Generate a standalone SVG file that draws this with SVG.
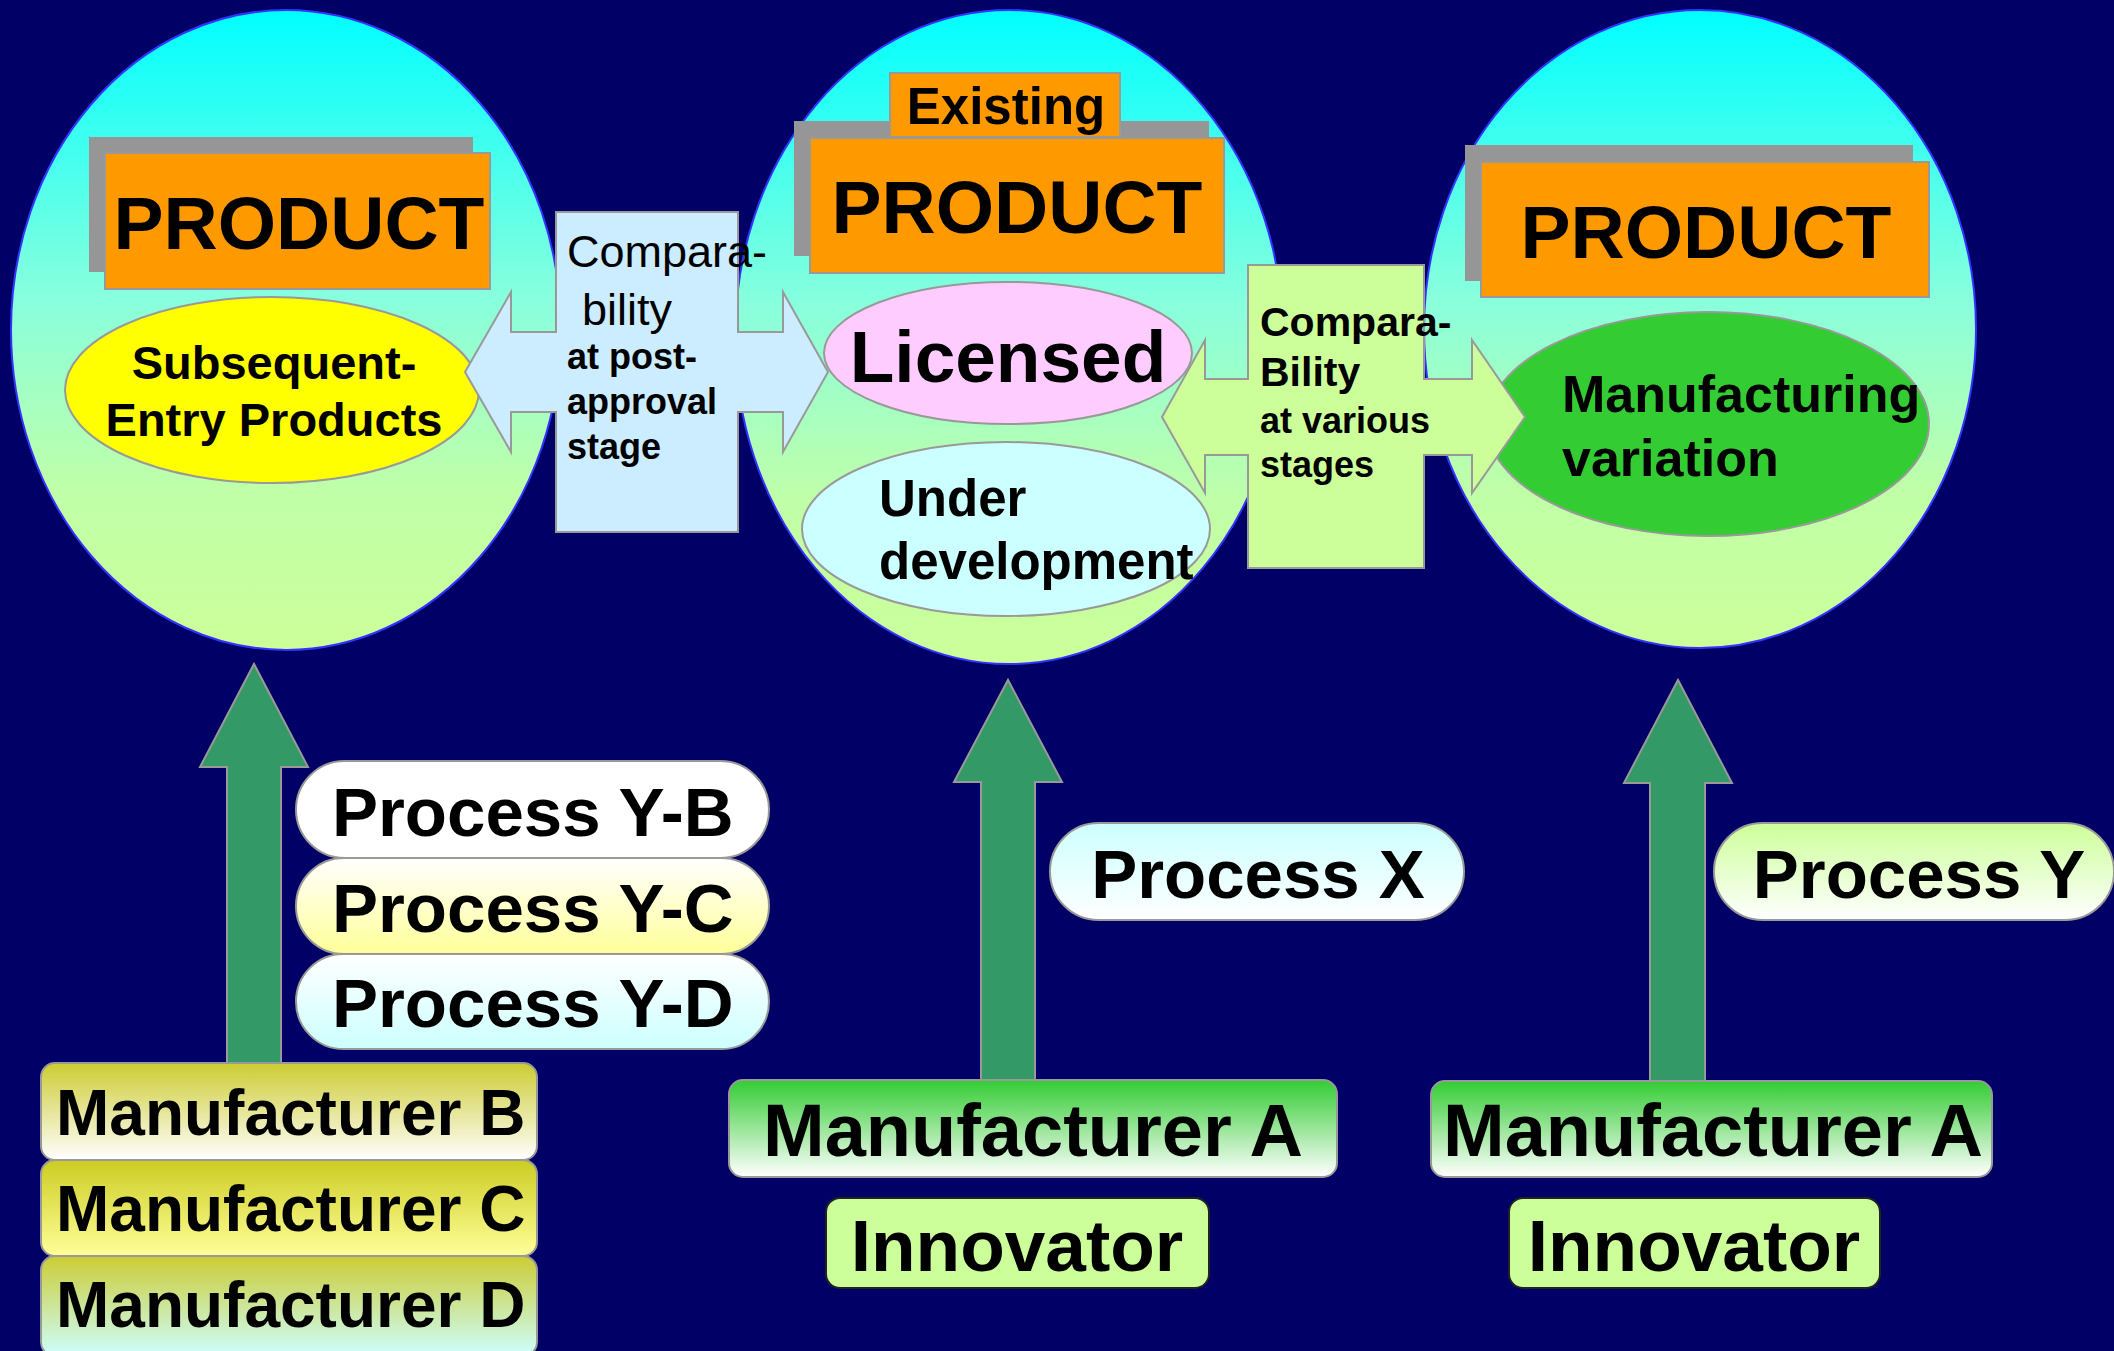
<svg xmlns="http://www.w3.org/2000/svg" width="2114" height="1351" viewBox="0 0 2114 1351">
<defs>
<linearGradient id="gBig" x1="0" y1="0" x2="0" y2="1">
<stop offset="0" stop-color="#00FFFF"/>
<stop offset="0.45" stop-color="#88FFDD"/>
<stop offset="0.75" stop-color="#C0FFA8"/>
<stop offset="1" stop-color="#CCFF99"/>
</linearGradient>
<linearGradient id="gWY" x1="0" y1="0" x2="0" y2="1"><stop offset="0" stop-color="#FFFFFF"/><stop offset="1" stop-color="#FFFF99"/></linearGradient>
<linearGradient id="gWC" x1="0" y1="0" x2="0" y2="1"><stop offset="0" stop-color="#FFFFFF"/><stop offset="1" stop-color="#CCFFFF"/></linearGradient>
<linearGradient id="gCW" x1="0" y1="0" x2="0" y2="1"><stop offset="0" stop-color="#CCFFFF"/><stop offset="1" stop-color="#FFFFFF"/></linearGradient>
<linearGradient id="gLW" x1="0" y1="0" x2="0" y2="1"><stop offset="0" stop-color="#CCFF99"/><stop offset="1" stop-color="#FFFFFF"/></linearGradient>
<linearGradient id="gMB" x1="0" y1="0" x2="0" y2="1"><stop offset="0" stop-color="#CCCC33"/><stop offset="1" stop-color="#FFFFFF"/></linearGradient>
<linearGradient id="gMC" x1="0" y1="0" x2="0" y2="1"><stop offset="0" stop-color="#CCCC22"/><stop offset="1" stop-color="#FFFF99"/></linearGradient>
<linearGradient id="gMD" x1="0" y1="0" x2="0" y2="1"><stop offset="0" stop-color="#CCCC33"/><stop offset="1" stop-color="#CCFFFF"/></linearGradient>
<linearGradient id="gMA" x1="0" y1="0" x2="0" y2="1"><stop offset="0" stop-color="#33CC33"/><stop offset="1" stop-color="#FFFFFF"/></linearGradient>
</defs>
<style>
text{font-family:"Liberation Sans",Arial,sans-serif;font-weight:bold;fill:#000}
text.reg{font-weight:normal}
.big{fill:url(#gBig);stroke:#3333FF;stroke-width:2}
.shadow{fill:#969696}
.orange{fill:#FF9900;stroke:#999999;stroke-width:2}
.sub{stroke:#999999;stroke-width:2}
.up{fill:#339966;stroke:#999999;stroke-width:2}
.pill{stroke:#999999;stroke-width:2}
.mbox{stroke:#999999;stroke-width:2}
.inno{fill:#CCFF99;stroke:#222222;stroke-width:2}
.prod{font-size:75px;text-anchor:middle}
.proc{font-size:69px}
.manu{font-size:64px}
.manuA{font-size:74px;text-anchor:middle}
.innoT{font-size:73px;text-anchor:middle}
</style>
<rect x="0" y="0" width="2114" height="1351" fill="#000066"/>

<g id="product-left">
<ellipse class="big" cx="286" cy="330" rx="275" ry="320"/>
<rect class="shadow" x="89" y="137" width="384" height="135"/>
<rect class="orange" x="105" y="153" width="385" height="136"/>
<text class="prod" x="299" y="249">PRODUCT</text>
<ellipse class="sub" cx="272" cy="390" rx="207" ry="93" fill="#FFFF00"/>
<text x="274" y="379" font-size="47" text-anchor="middle">Subsequent-</text>
<text x="274" y="436" font-size="47" text-anchor="middle">Entry Products</text>
</g>

<g id="product-existing">
<ellipse class="big" cx="1009" cy="337" rx="274" ry="327"/>
<rect class="shadow" x="794" y="121" width="415" height="135"/>
<rect class="orange" x="890" y="73" width="230" height="64"/>
<text x="1006" y="124" font-size="51" text-anchor="middle">Existing</text>
<rect class="orange" x="810" y="138" width="414" height="135"/>
<text class="prod" x="1017" y="233">PRODUCT</text>
<ellipse class="sub" cx="1008" cy="353" rx="184" ry="71" fill="#FFCCFF"/>
<text x="1008" y="382" font-size="73" text-anchor="middle">Licensed</text>
<ellipse class="sub" cx="1006" cy="529" rx="204" ry="87" fill="#CCFFFF"/>
<text x="879" y="516" font-size="51">Under</text>
<text x="879" y="579" font-size="51">development</text>
</g>

<g id="product-right">
<ellipse class="big" cx="1700" cy="329" rx="276" ry="319"/>
<rect class="shadow" x="1465" y="145" width="448" height="136"/>
<rect class="orange" x="1481" y="162" width="448" height="135"/>
<text class="prod" x="1706" y="258">PRODUCT</text>
<ellipse class="sub" cx="1708" cy="424" rx="221" ry="112" fill="#33CC33"/>
<text x="1562" y="412" font-size="52">Manufacturing</text>
<text x="1562" y="476" font-size="52">variation</text>
</g>

<g id="connectors">
<g id="comparability-post-approval">
<path d="M556,212 L738,212 L738,332 L783,332 L783,292 L828,372 L783,452 L783,412 L738,412 L738,532 L556,532 L556,412 L511,412 L511,452 L465,372 L511,292 L511,332 L556,332 Z" fill="#CCECFF" stroke="#999999" stroke-width="2"/>
<text class="reg" x="567" y="267" font-size="45">Compara-</text>
<text class="reg" x="582" y="325" font-size="45">bility</text>
<text x="567" y="369" font-size="36">at post-</text>
<text x="567" y="414" font-size="36">approval</text>
<text x="567" y="459" font-size="36">stage</text>
</g>
<g id="comparability-various">
<path d="M1248,265 L1424,265 L1424,379 L1472,379 L1472,340 L1525,417 L1472,493 L1472,455 L1424,455 L1424,568 L1248,568 L1248,455 L1205,455 L1205,493 L1162,417 L1205,340 L1205,379 L1248,379 Z" fill="#CCFF99" stroke="#999999" stroke-width="2"/>
<text x="1260" y="336" font-size="41">Compara-</text>
<text x="1260" y="386" font-size="41">Bility</text>
<text x="1260" y="433" font-size="36">at various</text>
<text x="1260" y="477" font-size="36">stages</text>
</g>
<path class="up" d="M227,1063 L227,767 L200,767 L254,664 L308,767 L281,767 L281,1063 Z"/>
<path class="up" d="M981,1080 L981,782 L954,782 L1008,680 L1062,782 L1035,782 L1035,1080 Z"/>
<path class="up" d="M1650,1081 L1650,783 L1624,783 L1678,680 L1732,783 L1705,783 L1705,1081 Z"/>
</g>

<g id="process-yb">
<rect class="pill" x="296" y="761" width="473" height="97" rx="48.5" fill="#FFFFFF"/>
<text class="proc" x="332" y="836">Process Y-B</text>
</g>
<g id="process-yc">
<rect class="pill" x="296" y="858" width="473" height="96" rx="48" fill="url(#gWY)"/>
<text class="proc" x="332" y="932">Process Y-C</text>
</g>
<g id="process-yd">
<rect class="pill" x="296" y="954" width="473" height="95" rx="47.5" fill="url(#gWC)"/>
<text class="proc" x="332" y="1027">Process Y-D</text>
</g>

<g id="manufacturer-b">
<rect class="mbox" x="41" y="1063" width="496" height="97" rx="14" fill="url(#gMB)"/>
<text class="manu" x="56" y="1135">Manufacturer B</text>
</g>
<g id="manufacturer-c">
<rect class="mbox" x="41" y="1160" width="496" height="96" rx="14" fill="url(#gMC)"/>
<text class="manu" x="56" y="1231">Manufacturer C</text>
</g>
<g id="manufacturer-d">
<rect class="mbox" x="41" y="1256" width="496" height="100" rx="14" fill="url(#gMD)"/>
<text class="manu" x="56" y="1327">Manufacturer D</text>
</g>

<g id="process-x">
<rect class="pill" x="1050" y="823" width="414" height="97" rx="48.5" fill="url(#gCW)"/>
<text class="proc" x="1258" y="898" text-anchor="middle">Process X</text>
</g>
<g id="manufacturer-a-mid">
<rect class="mbox" x="729" y="1080" width="608" height="97" rx="14" fill="url(#gMA)"/>
<text class="manuA" x="1033" y="1156">Manufacturer A</text>
</g>
<g id="innovator-mid">
<rect class="inno" x="826" y="1198" width="383" height="90" rx="14"/>
<text class="innoT" x="1017" y="1271">Innovator</text>
</g>

<g id="process-y">
<rect class="pill" x="1714" y="823" width="400" height="97" rx="48.5" fill="url(#gLW)"/>
<text class="proc" x="1919" y="898" text-anchor="middle">Process Y</text>
</g>
<g id="manufacturer-a-right">
<rect class="mbox" x="1431" y="1081" width="561" height="96" rx="14" fill="url(#gMA)"/>
<text class="manuA" x="1713" y="1156">Manufacturer A</text>
</g>
<g id="innovator-right">
<rect class="inno" x="1509" y="1198" width="371" height="90" rx="14"/>
<text class="innoT" x="1694" y="1271">Innovator</text>
</g>
</svg>
